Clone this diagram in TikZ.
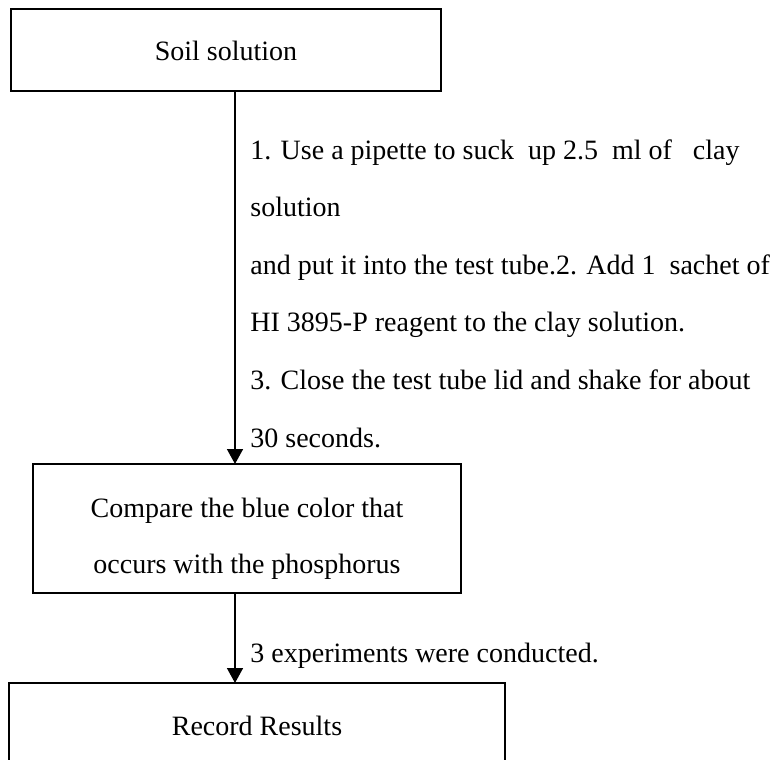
\documentclass[tikz,border=0pt]{standalone}
\usepackage{fontspec}
\setmainfont{Liberation Serif}
\usetikzlibrary{arrows.meta}
\begin{document}
\begin{tikzpicture}[x=0.5pt,y=-0.5pt,
  box/.style={draw, line width=0.8pt, inner sep=0pt, rectangle},
  txt/.style={font=\fontsize{14}{17}\selectfont, inner sep=0pt, anchor=base},
  lbl/.style={font=\fontsize{14}{17}\selectfont, inner sep=0pt, anchor=base west},
  flow/.style={line width=0.8pt, -{Triangle[length=7.5pt,width=8pt]}}]
\useasboundingbox (0,0) rectangle (782,760);
\clip (0,0) rectangle (782,760);

% process boxes
\node[box, minimum width=215pt, minimum height=41pt] (soil) at (226,50) {};
\node[box, minimum width=214pt, minimum height=64.5pt] (compare) at (247,528.5) {};
\node[box, minimum width=248pt, minimum height=65pt] (record) at (257,748) {};

% box texts
\node[txt] (soilT) at (226,61) {Soil solution};
\node[txt] (cmpA) at (247,517) {Compare the blue color that};
\node[txt] (cmpB) at (247,573) {occurs with the phosphorus};
\node[txt] (recT) at (257,735) {Record Results};

% connectors
\coordinate (a1s) at (235,91);
\coordinate (a1e) at (235,464);
\coordinate (a2s) at (235,593);
\coordinate (a2e) at (235,683);
\draw[flow] (a1s) -- (a1e);
\draw[flow] (a2s) -- (a2e);

% procedure steps beside the first connector
\node[lbl] (s1) at (250,159) {1. Use a pipette to suck\ \ up 2.5\ \ ml of\ \ \ clay};
\node[lbl] (s2) at (250,216.6) {solution};
\node[lbl] (s3) at (250,274.2) {and put it into the test tube.2. Add 1\ \ sachet of};
\node[lbl] (s4) at (250,331.8) {HI 3895-P reagent to the clay solution.};
\node[lbl] (s5) at (250,389.4) {3. Close the test tube lid and shake for about};
\node[lbl] (s6) at (250,447) {30 seconds.};

% note beside the second connector
\node[lbl] (n1) at (250,662) {3 experiments were conducted.};
\end{tikzpicture}
\end{document}
